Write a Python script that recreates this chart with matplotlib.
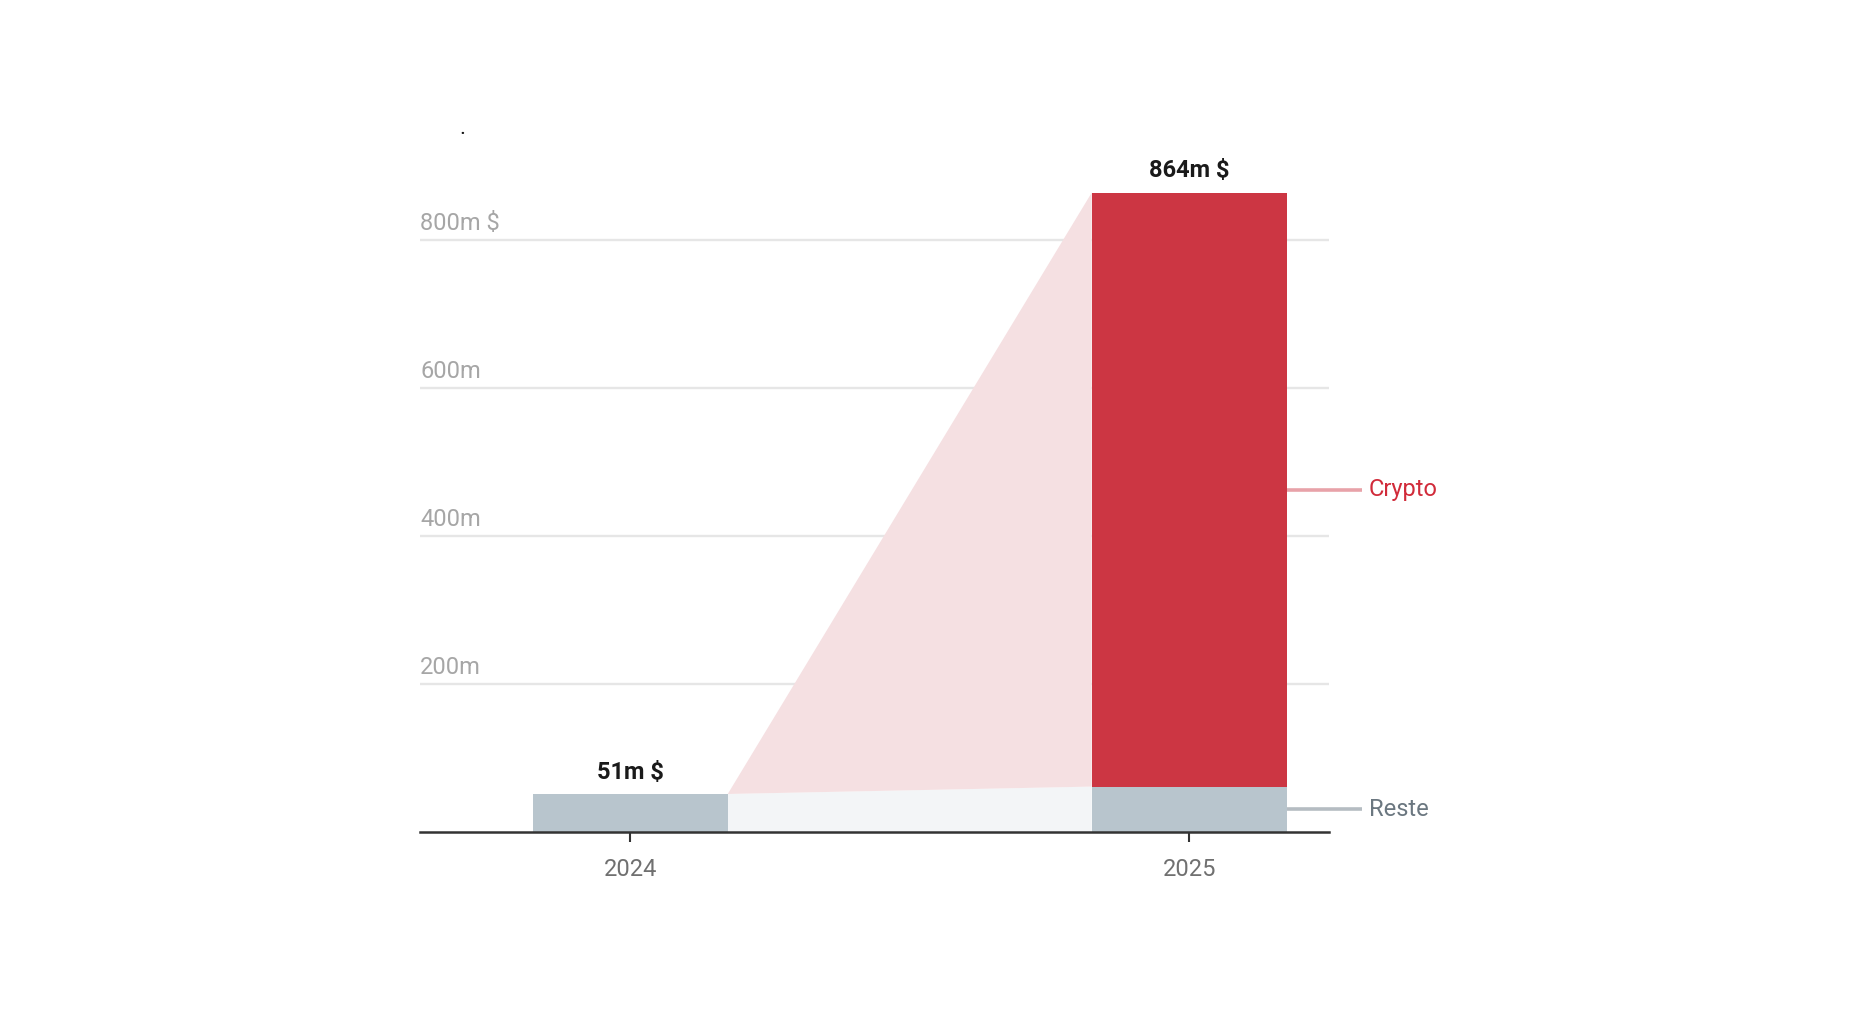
import matplotlib
matplotlib.use("Agg")
import matplotlib.pyplot as plt
from matplotlib.patches import Polygon

plt.rcParams['font.family'] = ['Roboto', 'DejaVu Sans']

years = ["2024", "2025"]
reste = [51, 61]
crypto = [0, 803]
totals = [51, 864]
total_labels = ["51m $", "864m $"]
grid_vals = [200, 400, 600, 800]
grid_labels = ["200m", "400m", "600m", "800m $"]

c_red = "#cc3643"
c_grey = "#b8c5cd"
c_pink = "#f5e0e2"
c_light = "#f3f5f7"

fig = plt.figure(figsize=(18.64, 10.36), dpi=100)
ax = fig.add_axes([420/1864, 0.1972, 909/1864, 0.6425])
ax.set_xlim(-0.376, 1.25)
ax.set_ylim(0, 900)

x = [0, 1]
w = 0.349

# fans between the bars
x0 = x[0] + w/2
x1 = x[1] - w/2
ax.add_patch(Polygon([(x0, 0), (x0, reste[0]), (x1, reste[1]), (x1, 0)],
                     closed=True, facecolor=c_light, edgecolor="none", zorder=1))
ax.add_patch(Polygon([(x0, totals[0]), (x1, totals[1]), (x1, reste[1])],
                     closed=True, facecolor=c_pink, edgecolor="none", zorder=1))

# gridlines and labels
for v, lab in zip(grid_vals, grid_labels):
    ax.axhline(v, color="#e6e6e6", lw=1.7, zorder=0.5)
    ax.annotate(lab, xy=(0, v), xycoords=ax.get_yaxis_transform(),
                xytext=(0, 7.2), textcoords="offset points",
                ha="left", va="baseline", fontsize=17, color="#a6a6a6")

ax.bar(x, reste, width=w, color=c_grey, zorder=2)
ax.bar(x, crypto, width=w, bottom=reste, color=c_red, zorder=2)

for xi, t, lab in zip(x, totals, total_labels):
    ax.annotate(lab, xy=(xi, t), xytext=(0, 11), textcoords="offset points",
                ha="center", va="baseline", fontsize=17, fontweight="bold",
                color="#1a1a1a")

# side labels for 2025
xr = x[1] + w/2
ym_c = reste[1] + crypto[1] / 2
ym_r = reste[1] / 2
ax.plot([xr, xr + 0.134], [ym_c, ym_c], color="#e8a2a9", lw=2.6,
        clip_on=False, solid_capstyle="butt")
ax.plot([xr, xr + 0.134], [ym_r, ym_r], color="#b5bcc2", lw=2.6,
        clip_on=False, solid_capstyle="butt")
ax.text(xr + 0.147, ym_c, "Crypto", ha="left", va="center", fontsize=17,
        color="#d12b3a")
ax.text(xr + 0.147, ym_r, "Reste", ha="left", va="center", fontsize=17,
        color="#6b7780")

for s in ["top", "right", "left"]:
    ax.spines[s].set_visible(False)
ax.spines["bottom"].set_color("#333333")
ax.spines["bottom"].set_linewidth(1.8)
ax.spines["bottom"].set_zorder(3)
ax.set_yticks([])
ax.set_xticks(x)
ax.set_xticklabels(years, fontsize=17, color="#707070")
ax.tick_params(axis="x", length=7, width=1.5, color="#333333", pad=12)

fig.text(462/1864, 1 - 134/1036, ".", fontsize=16, color="#111111",
         ha="center", va="baseline")

fig.savefig("out.png", dpi=100, facecolor="white")
